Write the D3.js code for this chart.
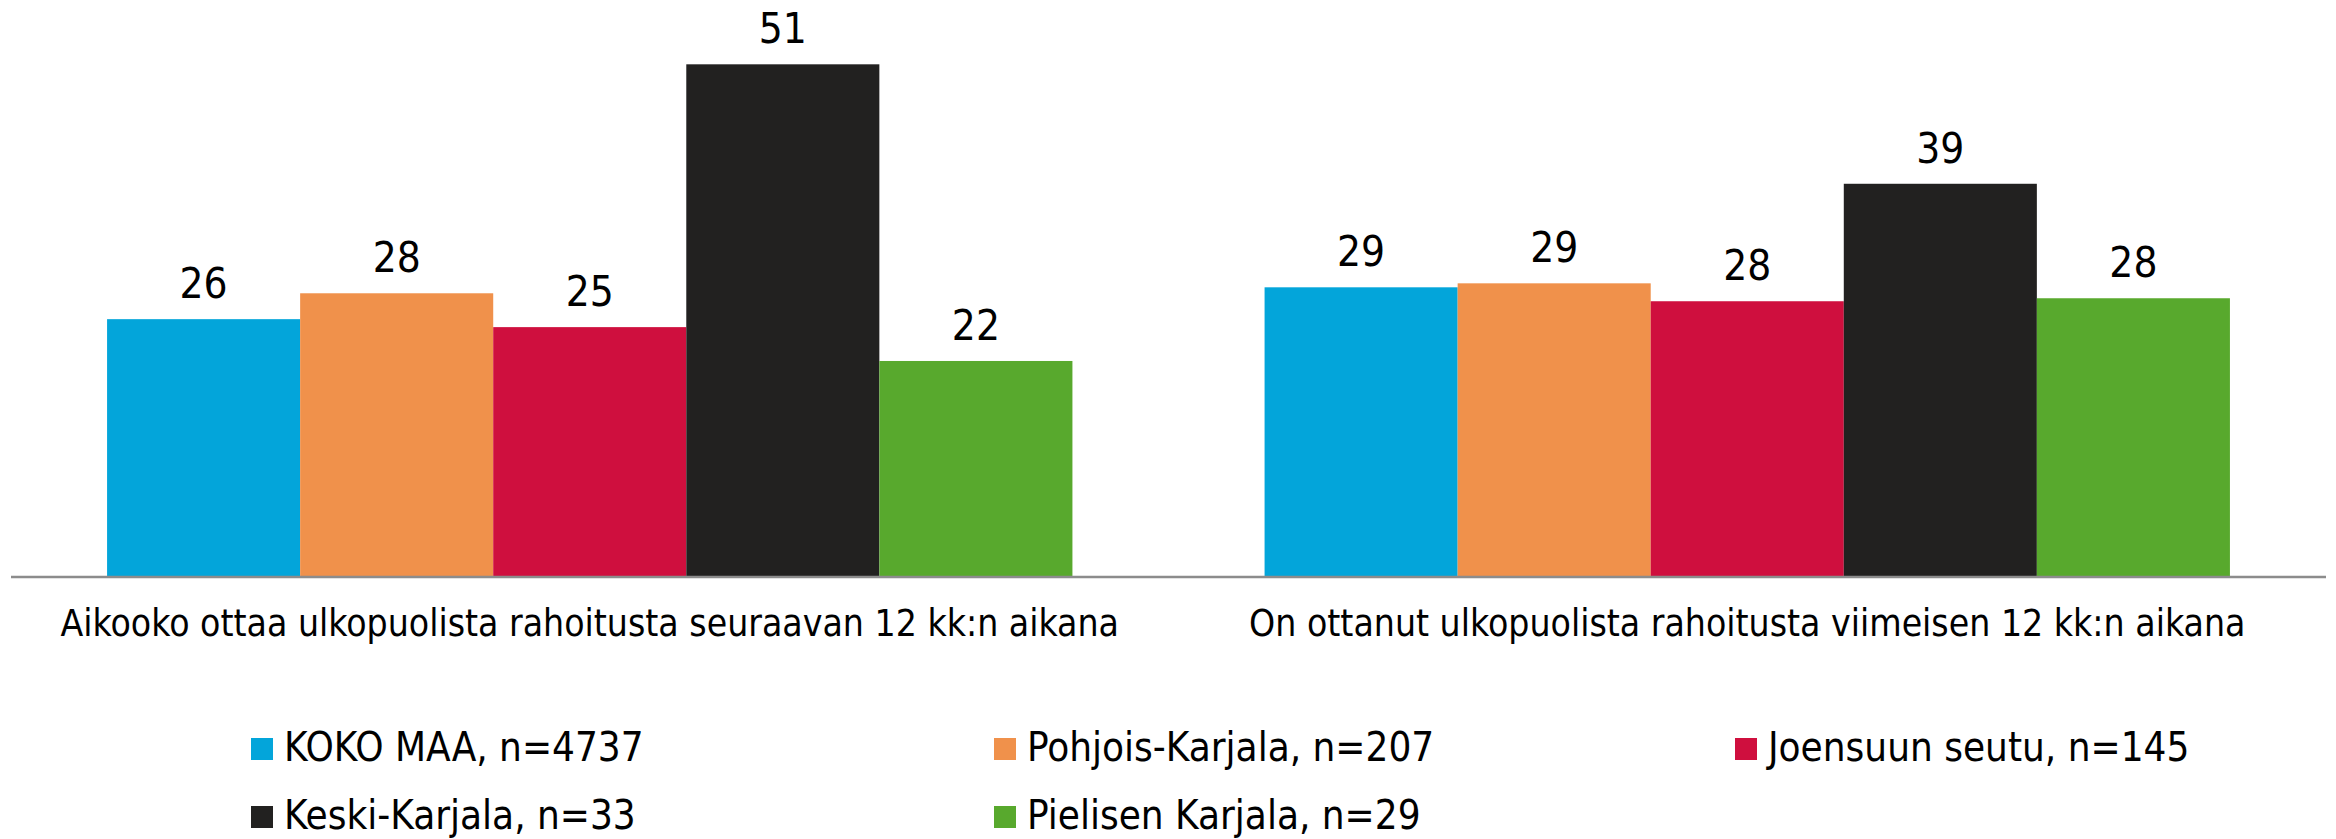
<!DOCTYPE html>
<html>
	<head>
		<meta charset="utf-8">
		<script type="text/javascript" src="https://cdn.jsdelivr.net/npm/d3@7"></script>
		<style type="text/css">
			body { margin: 0; background: #fff; }
			text { font-family: "DejaVu Sans Condensed", "DejaVu Sans", sans-serif; fill: #000; }
			.axisline { stroke: #8c8c8c; stroke-width: 2.5px; }
		</style>
	</head>
	<body>
		<script type="text/javascript">
			// categories (x groups)
			var categories = [
				"Aikooko ottaa ulkopuolista rahoitusta seuraavan 12 kk:n aikana",
				"On ottanut ulkopuolista rahoitusta viimeisen 12 kk:n aikana"
			];
			// series names + colours
			var seriesNames = ["KOKO MAA, n=4737", "Pohjois-Karjala, n=207", "Joensuun seutu, n=145", "Keski-Karjala, n=33", "Pielisen Karjala, n=29"];
			var seriesColors = ["#03a5da", "#f0914b", "#cf0f3e", "#222120", "#58a92d"];
			// values per series, one per category
			var kokoMaa = [25.8, 29.0];
			var pohjoisKarjala = [28.4, 29.4];
			var joensuunSeutu = [25.0, 27.6];
			var keskiKarjala = [51.4, 39.4];
			var pielisenKarjala = [21.6, 27.9];

			var series = [kokoMaa, pohjoisKarjala, joensuunSeutu, keskiKarjala, pielisenKarjala];

			var width = 2336, height = 839;
			var left = 11, right = 2326, baseY = 576;

			var svg = d3.select("body").append("svg")
				.attr("width", width)
				.attr("height", height);

			var x0 = d3.scaleBand()
				.domain(categories)
				.range([left, right])
				.paddingInner(0.166)
				.paddingOuter(0.083);

			var x1 = d3.scaleBand()
				.domain(d3.range(series.length))
				.range([0, x0.bandwidth()]);

			var y = d3.scaleLinear()
				.domain([0, 50])
				.range([baseY, baseY - 50 * 9.955]);

			var data = [];
			categories.forEach(function(c, ci) {
				series.forEach(function(s, si) {
					data.push({cat: c, s: si, v: s[ci]});
				});
			});

			svg.selectAll("rect.bar")
				.data(data)
				.enter()
				.append("rect")
				.attr("class", "bar")
				.attr("x", function(d) { return x0(d.cat) + x1(d.s); })
				.attr("y", function(d) { return y(d.v); })
				.attr("width", x1.bandwidth())
				.attr("height", function(d) { return baseY - y(d.v); })
				.attr("fill", function(d) { return seriesColors[d.s]; });

			// value labels
			svg.selectAll("text.val")
				.data(data)
				.enter()
				.append("text")
				.attr("class", "val")
				.attr("x", function(d) { return x0(d.cat) + x1(d.s) + x1.bandwidth() / 2; })
				.attr("y", function(d) { return y(d.v) - 21; })
				.attr("text-anchor", "middle")
				.style("font-size", "42px")
				.text(function(d) { return Math.round(d.v); });

			// x axis line
			svg.append("line")
				.attr("class", "axisline")
				.attr("x1", left)
				.attr("x2", right)
				.attr("y1", baseY + 1)
				.attr("y2", baseY + 1);

			// category labels
			svg.selectAll("text.cat")
				.data(categories)
				.enter()
				.append("text")
				.attr("class", "cat")
				.attr("x", function(d) { return x0(d) + x0.bandwidth() / 2; })
				.attr("y", 636)
				.attr("text-anchor", "middle")
				.style("font-size", "37px")
				.text(function(d) { return d; });

			// legend
			var legCols = [251, 994, 1735];
			var legRows = [738, 806];
			var leg = svg.selectAll("g.leg")
				.data(seriesNames)
				.enter()
				.append("g")
				.attr("class", "leg")
				.attr("transform", function(d, i) {
					return "translate(" + legCols[i % 3] + "," + legRows[Math.floor(i / 3)] + ")";
				});

			leg.append("rect")
				.attr("width", 22)
				.attr("height", 22)
				.attr("fill", function(d, i) { return seriesColors[i]; });

			leg.append("text")
				.attr("x", 33)
				.attr("y", 23)
				.style("font-size", "40px")
				.text(function(d) { return d; });
		</script>
	</body>
</html>
